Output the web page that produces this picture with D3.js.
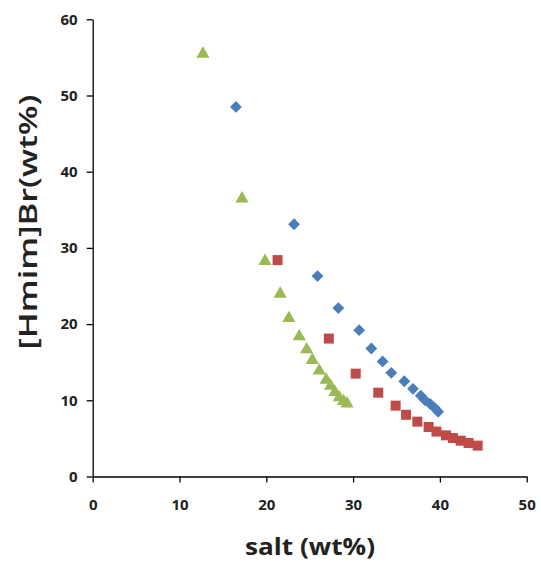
<!DOCTYPE html>
<html><head><meta charset="utf-8">
<script src="https://cdn.jsdelivr.net/npm/d3@7"></script>
<style>body{margin:0;background:#fff}svg{display:block}</style>
</head><body>
<svg id="c" width="541" height="568"></svg>
<script>
const xTicks = [0,10,20,30,40,50];
const yTicks = [0,10,20,30,40,50,60];
const blueX = [16.5,23.2,25.9,28.3,30.7,32.1,33.4,34.4,35.9,36.9,37.8,38.3,38.9,39.4,39.8];
const blueY = [48.5,33.1,26.3,22.1,19.2,16.8,15.1,13.6,12.5,11.5,10.6,10.0,9.5,9.0,8.5];
const redX = [21.3,27.2,30.3,32.9,34.9,36.1,37.4,38.7,39.6,40.7,41.5,42.4,43.3,44.35];
const redY = [28.4,18.1,13.5,11.0,9.3,8.1,7.2,6.5,5.9,5.4,5.05,4.7,4.4,4.05];
const greenX = [12.7,17.2,19.85,21.6,22.6,23.8,24.65,25.3,26.1,26.9,27.4,27.9,28.4,28.9,29.3];
const greenY = [55.6,36.6,28.4,24.1,20.9,18.5,16.8,15.4,14.0,12.8,12.0,11.2,10.5,10.0,9.7];

const svg = d3.select("#c");
const x = d3.scaleLinear().domain([0,50]).range([92.7,526.7]);
const y = d3.scaleLinear().domain([0,60]).range([476.5,19.3]);
const font = "'Open Sans', sans-serif";

const xa = svg.append("g").attr("transform","translate(0,476.5)")
  .call(d3.axisBottom(x).tickValues(xTicks).tickSize(6).tickPadding(17).tickSizeOuter(0));
const ya = svg.append("g").attr("transform","translate(92.7,0)")
  .call(d3.axisLeft(y).tickValues(yTicks).tickSize(6).tickPadding(9).tickSizeOuter(0));
[xa,ya].forEach(a=>{
  a.selectAll("path,line").attr("stroke","#000").attr("stroke-width",1.3);
  a.selectAll("text").attr("font-family",font).attr("font-weight","bold").attr("font-size","15px").attr("fill","#222");
});

function pts(xs,ys){return xs.map((v,i)=>[v,ys[i]]);}
svg.append("g").selectAll("path").data(pts(blueX,blueY)).join("path")
  .attr("d",d3.symbol(d3.symbolSquare,70))
  .attr("transform",d=>`translate(${x(d[0])},${y(d[1])}) rotate(45)`)
  .attr("fill","#4a7ebb");
svg.append("g").selectAll("rect").data(pts(redX,redY)).join("rect")
  .attr("x",d=>x(d[0])-5).attr("y",d=>y(d[1])-5).attr("width",10).attr("height",10)
  .attr("fill","#be4b48");
svg.append("g").selectAll("path").data(pts(greenX,greenY)).join("path")
  .attr("d",d3.symbol(d3.symbolTriangle,75))
  .attr("transform",d=>`translate(${x(d[0])},${y(d[1])+1})`)
  .attr("fill","#98b954");

svg.append("text").attr("x",310).attr("y",555).attr("text-anchor","middle")
  .attr("font-family",font).attr("font-weight","bold").attr("font-size","24px").attr("fill","#222")
  .attr("textLength",130).attr("lengthAdjust","spacingAndGlyphs").text("salt (wt%)");
svg.append("text").attr("transform","translate(37,222) rotate(-90)").attr("text-anchor","middle")
  .attr("font-family",font).attr("font-weight","600").attr("font-size","25px").attr("fill","#222")
  .attr("textLength",255).attr("lengthAdjust","spacingAndGlyphs").text("[Hmim]Br(wt%)");
</script>
</body></html>
